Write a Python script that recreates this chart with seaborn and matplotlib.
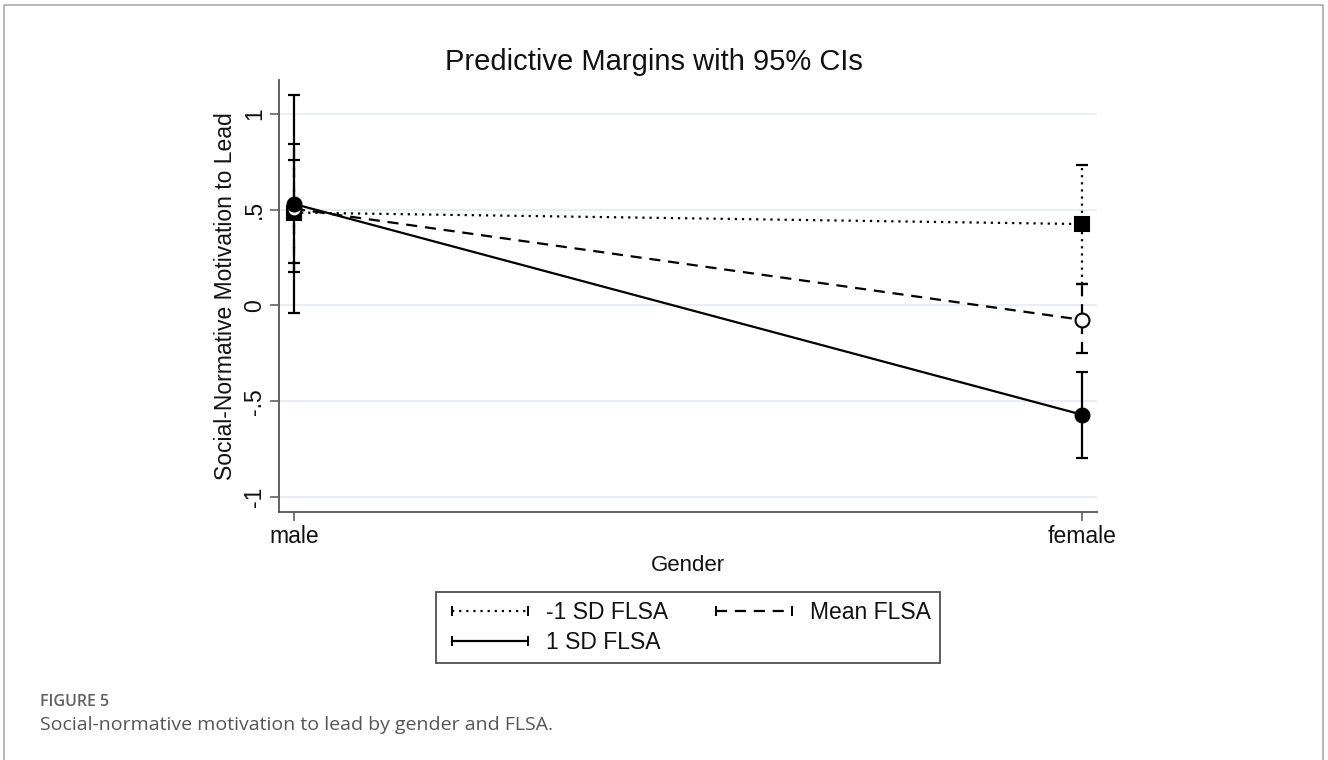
import matplotlib
matplotlib.use("Agg")
import matplotlib.pyplot as plt
from matplotlib.lines import Line2D
import seaborn as sns
import pandas as pd
import numpy as np

# ---- data ----
genders = ["male", "female"]
levels = ["-1 SD FLSA", "Mean FLSA", "1 SD FLSA"]
margin_low_sd = [0.485, 0.425]
lower_low_sd = [0.222, 0.114]
upper_low_sd = [0.758, 0.735]
margin_mean = [0.505, -0.075]
lower_mean = [0.175, -0.250]
upper_mean = [0.843, 0.110]
margin_high_sd = [0.530, -0.570]
lower_high_sd = [-0.040, -0.796]
upper_high_sd = [1.100, -0.347]
y_ticks = [-1, -0.5, 0, 0.5, 1]
y_tick_labels = ["-1", "-.5", "0", ".5", "1"]

margins = [margin_low_sd, margin_mean, margin_high_sd]
lowers = [lower_low_sd, lower_mean, lower_high_sd]
uppers = [upper_low_sd, upper_mean, upper_high_sd]

rows = []
for lev, m, lo, up in zip(levels, margins, lowers, uppers):
    for gi, g in enumerate(genders):
        rows.append({"FLSA": lev, "g": gi, "Gender": g, "margin": m[gi],
                     "lo": lo[gi], "up": up[gi]})
df = pd.DataFrame(rows)

sns.set_theme(style="white")
plt.rcParams["font.family"] = ["Liberation Sans", "DejaVu Sans"]

fig = plt.figure(figsize=(13.28, 7.6), dpi=100)
W, H = 1328, 760
ax = fig.add_axes([279 / W, 1 - 512 / H, (1097 - 279) / W, (512 - 80) / H])

styles = {"-1 SD FLSA": (0, (1, 2.2)), "Mean FLSA": (0, (5, 3.5)), "1 SD FLSA": "-"}
marks = {"-1 SD FLSA": "s", "Mean FLSA": "o", "1 SD FLSA": "o"}
faces = {"-1 SD FLSA": "black", "Mean FLSA": "white", "1 SD FLSA": "black"}

for lev in levels:
    sub = df[df.FLSA == lev]
    sns.lineplot(data=sub, x="g", y="margin", ax=ax, color="black",
                 linewidth=1.6, linestyle=styles[lev], legend=False,
                 marker=marks[lev], markersize=10, markerfacecolor=faces[lev],
                 markeredgecolor="black", markeredgewidth=1.5, zorder=3)
    eb = ax.errorbar(sub.g, sub.margin,
                     yerr=[sub.margin - sub.lo, sub.up - sub.margin],
                     fmt="none", ecolor="black", elinewidth=1.6, capsize=4,
                     capthick=1.6, zorder=2)
    for bl in eb[2]:
        bl.set_linestyle(styles[lev])

FS = 16.5
ax.set_xlim(-0.019, 1.019)
ax.set_ylim(-1.078, 1.177)
ax.set_xticks([0, 1])
ax.set_xticklabels(genders, fontsize=FS)
ax.set_yticks(y_ticks)
ax.set_yticklabels(y_tick_labels, fontsize=FS, rotation=90, va="center")
ax.grid(axis="y", color="#e6ebf2", linewidth=1.2)
ax.grid(axis="x", visible=False)
for s in ["top", "right"]:
    ax.spines[s].set_visible(False)
for s in ["left", "bottom"]:
    ax.spines[s].set_color("#555555")
    ax.spines[s].set_linewidth(1.3)
ax.tick_params(axis="both", which="major", length=6.5, width=1.1,
               color="#555555", labelcolor="#111111", direction="out",
               left=True, bottom=True, pad=3)
ax.set_xlabel("Gender", fontsize=16, color="#111111", labelpad=5)
ax.set_ylabel("Social-Normative Motivation to Lead", fontsize=FS,
              color="#111111", labelpad=4)

fig.text(654 / W, 1 - 70 / H, "Predictive Margins with 95% CIs", fontsize=21,
         color="#111111", ha="center", va="baseline")

order = ["-1 SD FLSA", "1 SD FLSA", "Mean FLSA"]  # column-major -> row-major look
handles = [Line2D([], [], color="black", linestyle=styles[l], linewidth=1.6,
                  marker="|", markersize=7, markeredgewidth=1.4) for l in order]
leg = fig.legend(handles, order, loc="center", ncol=2, numpoints=2,
                 bbox_to_anchor=(688 / W, 1 - 627.5 / H),
                 fontsize=FS, frameon=True, fancybox=False, edgecolor="#222222",
                 handlelength=3.9, handletextpad=0.5, columnspacing=1.8,
                 labelspacing=0.3, borderpad=0.4, borderaxespad=0)
leg.get_frame().set_linewidth(1.3)
for t in leg.get_texts():
    t.set_color("#111111")

# figure frame (top, left, right)
fig.add_artist(Line2D([4 / W, 4 / W, 1323 / W, 1323 / W],
                      [0, 1 - 5 / H, 1 - 5 / H, 0], transform=fig.transFigure,
                      color="#aaaaaa", linewidth=1.2))

fig.text(40 / W, 1 - 702 / H, "FIGURE 5", fontsize=11.5, color="#5f5f5f",
         fontweight="semibold", family=["Open Sans", "DejaVu Sans"],
         va="center", ha="left")
fig.text(40 / W, 1 - 725 / H,
         "Social-normative motivation to lead by gender and FLSA.",
         fontsize=14, color="#555555", family=["Open Sans", "DejaVu Sans"],
         va="center", ha="left")

fig.savefig("out.png", dpi=100)
